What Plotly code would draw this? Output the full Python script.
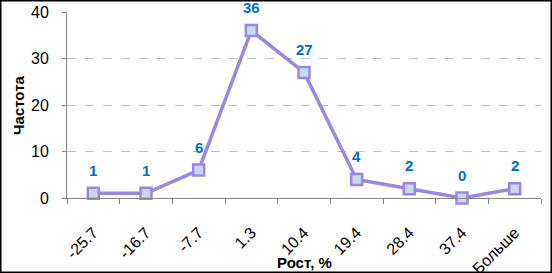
import plotly.graph_objects as go

categories = ["-25.7", "-16.7", "-7.7", "1.3", "10.4", "19.4", "28.4", "37.4", "Больше"]
frequency = [1, 1, 6, 36, 27, 4, 2, 0, 2]
y_ticks = [0, 10, 20, 30, 40]

W, H = 552, 273
ml, mr, mt, mb = 67, 11, 12, 75
pw, ph = W - ml - mr, H - mt - mb

fig = go.Figure()
fig.add_trace(go.Scatter(
    x=categories, y=frequency,
    mode="lines+markers",
    line=dict(color="#9b86e6", width=3.5),
    marker=dict(symbol="square", size=11, color="#c9d8ee",
                line=dict(color="#9b86e6", width=2.5)),
    cliponaxis=False,
    hoverinfo="skip",
))

# data labels: category index on the category axis, value on the y axis
annotations = [
    dict(text=f"<b>{v}</b>", x=i, y=v, xref="x", yref="y", yshift=23,
         showarrow=False, xanchor="center", yanchor="middle",
         font=dict(family="Arial", size=15, color="#0070c0"))
    for i, v in enumerate(frequency)
]
annotations += [
    dict(text="<b>Рост, %</b>", xref="paper", yref="paper",
         x=0.5, y=-(262 - (mt + ph)) / ph, xanchor="center", yanchor="middle",
         showarrow=False, font=dict(family="Arial", size=15)),
    dict(text="<b>Частота</b>", xref="paper", yref="paper",
         x=-(ml - 18) / pw, y=0.5, xanchor="center", yanchor="middle",
         textangle=-90, showarrow=False, font=dict(family="Arial", size=15)),
]

fig.update_layout(
    width=W, height=H,
    margin=dict(l=ml, r=mr, t=mt, b=mb, autoexpand=False),
    paper_bgcolor="white", plot_bgcolor="white",
    showlegend=False,
    font=dict(family="Arial", size=15, color="#000000"),
    xaxis=dict(
        type="category", range=[-0.5, len(categories) - 0.5],
        tickson="boundaries", ticks="outside", ticklen=5, tickcolor="#868686",
        showline=True, linecolor="#868686", linewidth=1,
        showgrid=False, tickangle=-45, automargin=False,
        tickfont=dict(family="Arial", size=16),
        ticklabelstandoff=18,
    ),
    yaxis=dict(
        range=[0, 40], tickvals=y_ticks,
        showline=True, linecolor="#868686", linewidth=1,
        ticks="outside", ticklen=4, tickcolor="#868686",
        showgrid=True, gridcolor="#c0c0c0", griddash="dash", gridwidth=1,
        zeroline=False, automargin=False,
        tickfont=dict(family="Arial", size=16),
        ticklabelstandoff=10,
    ),
    annotations=annotations,
    shapes=[dict(
        type="rect", xref="paper", yref="paper",
        x0=(-ml + 0.75) / pw, x1=1 + (mr - 0.75) / pw,
        y0=(-mb + 0.75) / ph, y1=1 + (mt - 0.75) / ph,
        line=dict(color="black", width=1.5), fillcolor="rgba(0,0,0,0)",
        layer="above",
    )],
)

fig.write_html("out.html")
